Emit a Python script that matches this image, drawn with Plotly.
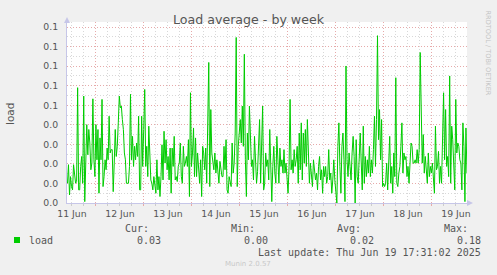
import plotly.graph_objects as go
import pandas as pd

# ---------------- data ----------------
load_part1 = [0.0101, 0.0196, 0.0041, 0.0135, 0.0084, 0.0067, 0.0196, 0.0135, 0.0101, 0.0110,
              0.0590, 0.0067, 0.0067, 0.0187, 0.0238, 0.0101, 0.0547, 0.0007, 0.0290, 0.0401,
              0.0247, 0.0376, 0.0307, 0.0170, 0.0204, 0.0533, 0.0221, 0.0135, 0.0401, 0.0221,
              0.0376, 0.0050, 0.0333, 0.0221, 0.0530, 0.0084, 0.0135, 0.0221, 0.0170, 0.0281,
              0.0221, 0.0444, 0.0256, 0.0273, 0.0273, 0.0058, 0.0204, 0.0376, 0.0238, 0.0290,
              0.0410, 0.0547]
load_part2 = [0.0487, 0.0496, 0.0427, 0.0376, 0.0256, 0.0221, 0.0101, 0.0101, 0.0101, 0.0187,
              0.0556, 0.0221, 0.0341, 0.0187, 0.0290, 0.0221, 0.0307, 0.0238, 0.0444, 0.0067,
              0.0067, 0.0444, 0.0187, 0.0376, 0.0581, 0.0187, 0.0290, 0.0135, 0.0393, 0.0256,
              0.0118, 0.0101, 0.0067, 0.0135, 0.0084, 0.0050, 0.0221, 0.0067, 0.0135, 0.0033,
              0.0135, 0.0298, 0.0118, 0.0367, 0.0204, 0.0324, 0.0170, 0.0238, 0.0118, 0.0281,
              0.0050, 0.0281, 0.0187, 0.0341, 0.0118, 0.0135, 0.0110]
load_part3 = [0.0187, 0.0204, 0.0307, 0.0135, 0.0101, 0.0290, 0.0187, 0.0204, 0.0238, 0.0187,
              0.0324, 0.0033, 0.0564, 0.0187, 0.0256, 0.0384, 0.0135, 0.0333, 0.0135, 0.0256,
              0.0153, 0.0101, 0.0221, 0.0033, 0.0290, 0.0256, 0.0170, 0.0281, 0.0101, 0.0427,
              0.0719, 0.0084, 0.0478, 0.0256, 0.0204, 0.0170, 0.0256, 0.0153, 0.0221, 0.0135,
              0.0101, 0.0213, 0.0170, 0.0135, 0.0135, 0.0290, 0.0170, 0.0324, 0.0067, 0.0050,
              0.0135, 0.0110, 0.0084, 0.0307, 0.0153, 0.0204, 0.0358, 0.0847]
load_part4 = [0.0084, 0.0290, 0.0376, 0.0427, 0.0307, 0.0496, 0.0290, 0.0761, 0.0221, 0.0033,
              0.0358, 0.0221, 0.0496, 0.0256, 0.0187, 0.0221, 0.0118, 0.0341, 0.0187, 0.0101,
              0.0161, 0.0341, 0.0427, 0.0101, 0.0290, 0.0496, 0.0067, 0.0101, 0.0256, 0.0187,
              0.0221, 0.0118, 0.0376, 0.0153, 0.0007, 0.0187, 0.0290, 0.0153, 0.0101, 0.0341,
              0.0170, 0.0101, 0.0281, 0.0187, 0.0221, 0.0153, 0.0273, 0.0153, 0.0204, 0.0101,
              0.0050, 0.0187, 0.0530, 0.0170, 0.0221, 0.0153, 0.0273, 0.0187, 0.0221]
load_part5 = [0.0290, 0.0101, 0.0358, 0.0170, 0.0410, 0.0118, 0.0358, 0.0204, 0.0376, 0.0187,
              0.0427, 0.0187, 0.0101, 0.0204, 0.0135, 0.0084, 0.0221, 0.0153, 0.0118, 0.0153,
              0.0067, 0.0187, 0.0238, 0.0118, 0.0170, 0.0050, 0.0187, 0.0135, 0.0187, 0.0101,
              0.0135, 0.0273, 0.0118, 0.0153, 0.0050, 0.0118, 0.0221, 0.0118, 0.0067, 0.0000,
              0.0290, 0.0410, 0.0187, 0.0050, 0.0290, 0.0358, 0.0221, 0.0007, 0.0701, 0.0221,
              0.0135, 0.0256, 0.0187, 0.0118, 0.0256, 0.0341, 0.0238]
load_part6 = [0.0000, 0.0324, 0.0135, 0.0101, 0.0221, 0.0358, 0.0204, 0.0067, 0.0393, 0.0101,
              0.0238, 0.0135, 0.0221, 0.0153, 0.0290, 0.0135, 0.0221, 0.0153, 0.0273, 0.0444,
              0.0187, 0.0427, 0.0856, 0.0324, 0.0478, 0.0221, 0.0427, 0.0084, 0.0101, 0.0084,
              0.0101, 0.0204, 0.0067, 0.0221, 0.0341, 0.0101, 0.0187, 0.0050, 0.0256, 0.0135,
              0.0641, 0.0101, 0.0084, 0.0153, 0.0187, 0.0290, 0.0410, 0.0153, 0.0256, 0.0221,
              0.0238, 0.0135, 0.0187, 0.0101, 0.0221, 0.0307, 0.0290, 0.0204]
load_part7 = [0.0204, 0.0221, 0.0204, 0.0273, 0.0204, 0.0273, 0.0770, 0.0358, 0.0204, 0.0350,
              0.0153, 0.0238, 0.0187, 0.0101, 0.0256, 0.0135, 0.0187, 0.0153, 0.0204, 0.0135,
              0.0050, 0.0393, 0.0170, 0.0187, 0.0264, 0.0101, 0.0187, 0.0101, 0.0341, 0.0564,
              0.0221, 0.0478, 0.0187, 0.0238, 0.0135, 0.0650, 0.0101, 0.0393, 0.0324, 0.0135,
              0.0067, 0.0530, 0.0256, 0.0307, 0.0290, 0.0221, 0.0204, 0.0067, 0.0410, 0.0290,
              0.0007, 0.0384, 0.0153]

load = (load_part1 + load_part2 + load_part3 + load_part4 +
        load_part5 + load_part6 + load_part7)

range_start = "2025-06-11 09:31:02"
range_end = "2025-06-19 17:31:02"
first_sample = "2025-06-11 09:45:00"
last_sample = "2025-06-19 17:30:00"

y_tick_vals = [0.00, 0.01, 0.02, 0.03, 0.04, 0.05, 0.06, 0.07, 0.08, 0.09]
y_tick_text = ["0.0", "0.0", "0.0", "0.0", "0.0", "0.1", "0.1", "0.1", "0.1", "0.1"]

legend_headers = ["Cur:", "Min:", "Avg:", "Max:"]
legend_values = ["0.03", "0.00", "0.02", "0.18"]
series_name = "load"
last_update = "Last update: Thu Jun 19 17:31:02 2025"

# ---------------- figure ----------------
times = pd.date_range(first_sample, last_sample, periods=len(load))

W, H = 497, 275
L, R, T, B = 67, 467, 22, 203


def px(x):
    return (x - L) / (R - L)


def py(y):
    return (B - y) / (B - T)


fig = go.Figure()
fig.add_trace(go.Scatter(x=times, y=load, mode="lines",
                         line=dict(color="#00CC00", width=1), hoverinfo="skip"))

grey = "#555555"
red_grid = "#e6aaaa"
minor_grid = "#d8d8d8"
axis_col = "#c6c6e8"

fig.update_layout(
    width=W, height=H,
    margin=dict(l=L, r=W - R, t=T, b=H - B),
    paper_bgcolor="#F0F0F0",
    plot_bgcolor="#FFFFFF",
    showlegend=False,
    font=dict(family="DejaVu Sans", color=grey, size=9),
    title=dict(text="Load average - by week", x=0.5, xanchor="center",
               y=1 - 20 / H, yanchor="middle",
               font=dict(family="DejaVu Sans", size=12.6, color=grey)),
)

fig.update_xaxes(
    type="date",
    range=[range_start, range_end],
    tick0="2025-06-11 00:00:00", dtick=86400000,
    ticklabelmode="period", tickformat="%d %b",
    showgrid=True, gridcolor=red_grid, griddash="1px,2px", gridwidth=1,
    ticks="outside", ticklen=2, tickcolor=red_grid,
    minor=dict(dtick=21600000, showgrid=True, gridcolor=minor_grid,
               griddash="1px,2px", ticks="outside", ticklen=2, tickcolor="#cccccc"),
    showline=True, linecolor=axis_col, linewidth=1,
    zeroline=False,
    tickfont=dict(family="DejaVu Sans", size=9.3, color=grey),
    fixedrange=True,
)

fig.update_yaxes(
    range=[0, 0.0926],
    tickmode="array", tickvals=y_tick_vals, ticktext=y_tick_text,
    showgrid=True, gridcolor=red_grid, griddash="1px,2px", gridwidth=1,
    minor=dict(dtick=0.005, showgrid=True, gridcolor=minor_grid, griddash="1px,2px"),
    showline=True, linecolor=axis_col, linewidth=1,
    zeroline=False, ticks="", ticklabelstandoff=6,
    tickfont=dict(family="DejaVu Sans", size=9.3, color=grey),
    fixedrange=True,
)

ann = []
# y-axis title
ann.append(dict(text="load", xref="paper", yref="paper", x=px(10), y=py(114),
                textangle=-90, showarrow=False, xanchor="center", yanchor="middle",
                font=dict(family="DejaVu Sans", size=10.5, color=grey)))
# side credit
ann.append(dict(text="RRDTOOL / TOBI OETIKER", xref="paper", yref="paper",
                x=px(487.5), y=py(53), textangle=90, showarrow=False,
                xanchor="center", yanchor="middle",
                font=dict(family="DejaVu Sans", size=6.6, color="#c4c4c4")))
mono = dict(family="DejaVu Sans Mono", size=10, color=grey)
header_right = [150.5, 257, 363, 470]
value_right = [163, 270, 376, 483]
for h, xr in zip(legend_headers, header_right):
    ann.append(dict(text=h, xref="paper", yref="paper", x=px(xr), y=py(228.5),
                    showarrow=False, xanchor="right", yanchor="middle", font=mono))
for v, xr in zip(legend_values, value_right):
    ann.append(dict(text=v, xref="paper", yref="paper", x=px(xr), y=py(240),
                    showarrow=False, xanchor="right", yanchor="middle", font=mono))
ann.append(dict(text=series_name, xref="paper", yref="paper", x=px(26.5), y=py(240),
                showarrow=False, xanchor="left", yanchor="middle", font=mono))
ann.append(dict(text=last_update, xref="paper", yref="paper", x=px(483), y=py(252),
                showarrow=False, xanchor="right", yanchor="middle", font=mono))
ann.append(dict(text="Munin 2.0.57", xref="paper", yref="paper", x=px(248), y=py(264),
                showarrow=False, xanchor="center", yanchor="middle",
                font=dict(family="DejaVu Sans", size=7, color="#c8c8c8")))
fig.update_layout(annotations=ann)

shapes = []
# legend colour box
shapes.append(dict(type="rect", xref="paper", yref="paper",
                   x0=px(14), x1=px(20), y0=py(243), y1=py(237),
                   fillcolor="#00CC00", line=dict(width=0)))
# axis arrows
shapes.append(dict(type="path", xref="paper", yref="paper",
                   path=f"M {px(64)} {py(23)} L {px(70)} {py(23)} L {px(67)} {py(17)} Z",
                   fillcolor=axis_col, line=dict(width=0)))
shapes.append(dict(type="path", xref="paper", yref="paper",
                   path=f"M {px(467)} {py(200)} L {px(467)} {py(206)} L {px(473)} {py(203)} Z",
                   fillcolor=axis_col, line=dict(width=0)))
fig.update_layout(shapes=shapes)

fig.write_html("out.html")
